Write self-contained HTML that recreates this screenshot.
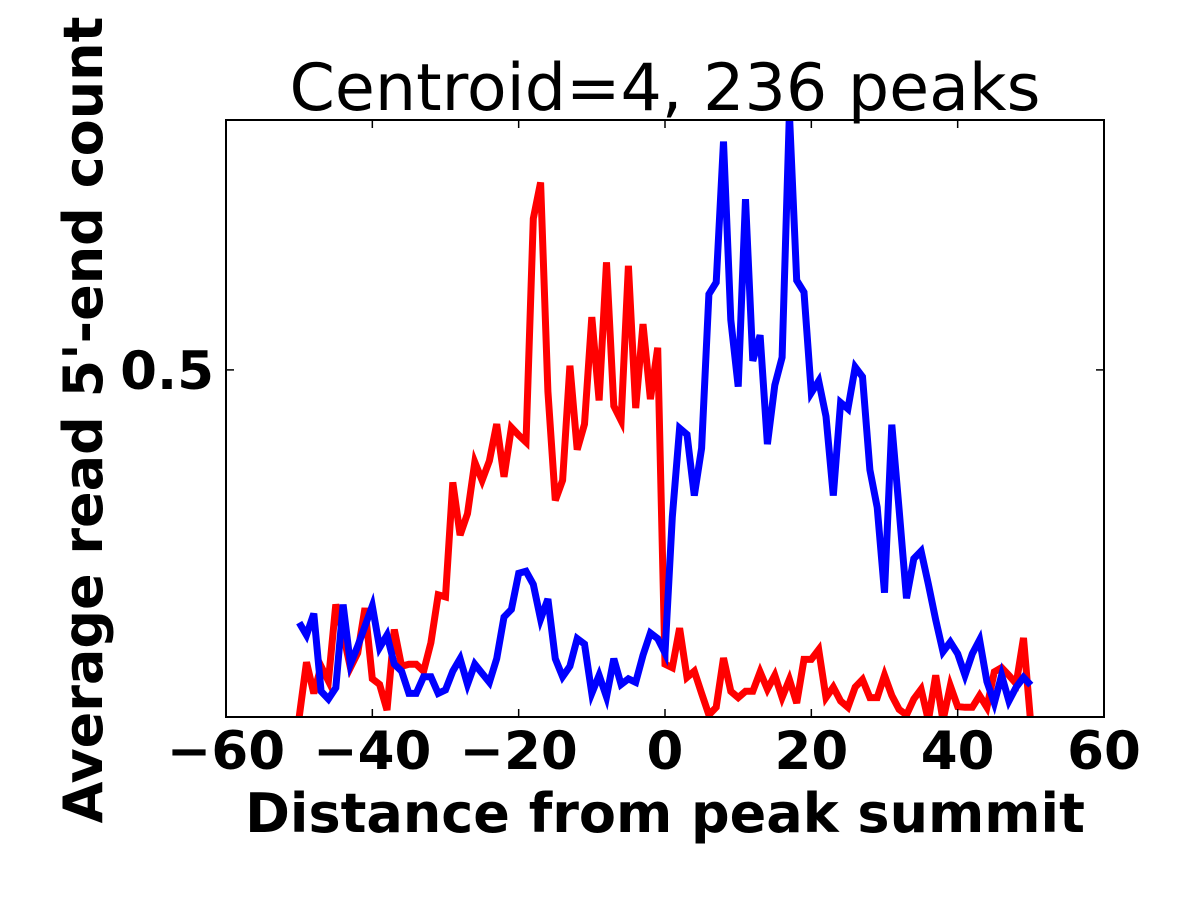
<!DOCTYPE html>
<html><head><meta charset="utf-8"><style>
html,body{margin:0;padding:0;background:#fff;}
svg{display:block;font-family:"DejaVu Sans","Liberation Sans",sans-serif;}
</style></head><body>
<svg id="chart" width="1200" height="900" viewBox="0 0 1200 900" xmlns="http://www.w3.org/2000/svg">
<text x="665" y="110" font-size="65" text-anchor="middle">Centroid=4, 236 peaks</text>
<defs><clipPath id="pc"><rect x="226" y="120" width="878" height="597"/></clipPath></defs>
<g id="lines" clip-path="url(#pc)"></g>
<rect x="226" y="120" width="878" height="597" fill="none" stroke="#000" stroke-width="2"/>
<g id="ticks"></g>
<text transform="translate(102,420) rotate(-90)" font-size="54" font-weight="bold" text-anchor="middle">Average read 5'-end count</text>
<text x="665" y="832" font-size="54" font-weight="bold" text-anchor="middle">Distance from peak summit</text>
</svg>
<script>
const xs = [];
for (let k = -50; k <= 50; k++) xs.push(k);
const redValues = [0,0.079,0.034,0.073,0.052,0.162,0.12,0.071,0.092,0.157,0.055,0.047,0.010,0.126,0.073,0.076,0.076,0.066,0.107,0.176,0.173,0.338,0.262,0.293,0.367,0.341,0.369,0.422,0.346,0.417,0.406,0.396,0.718,0.770,0.469,0.312,0.341,0.506,0.385,0.422,0.576,0.456,0.655,0.448,0.427,0.650,0.445,0.566,0.458,0.532,0.076,
0.071,0.128,0.057,0.066,0.034,0.003,0.014,0.085,0.037,0.028,0.037,0.037,0.065,0.040,0.060,0.028,0.054,0.020,0.083,0.083,0.097,0.028,0.043,0.023,0.014,0.043,0.054,0.028,0.028,0.060,0.031,0.011,0.003,0.026,0.040,-0.005,0.060,-0.005,0.045,0.015,0.014,0.014,0.031,0.014,0.065,0.071,0.060,0.048,0.114,-0.01];
const blueValues = [0.136,0.118,0.149,0.037,0.026,0.042,0.162,0.076,0.102,0.131,0.160,0.100,0.118,0.076,0.066,0.034,0.034,0.058,0.058,0.034,0.039,0.066,0.084,0.047,0.076,0.063,0.050,0.084,0.144,0.155,0.207,0.210,0.191,0.141,0.170,0.084,0.058,0.073,0.113,0.105,0.034,0.060,0.029,0.084,0.047,0.055,0.050,0.089,0.121,0.113,0.092,
0.288,0.416,0.407,0.319,0.387,0.609,0.626,0.829,0.572,0.476,0.746,0.513,0.550,0.393,0.478,0.518,0.87,0.629,0.612,0.467,0.484,0.433,0.319,0.453,0.444,0.504,0.490,0.356,0.302,0.179,0.421,0.299,0.171,0.228,0.239,0.191,0.140,0.094,0.108,0.091,0.060,0.091,0.111,0.051,0.020,0.060,0.023,0.043,0.057,0.046];
const xTicks = [-60,-40,-20,0,20,40,60];
const xTickLabels = ["\u221260","\u221240","\u221220","0","20","40","60"];
const yTicks = [0.5];
const yTickLabels = ["0.5"];

const X0=226,X1=1104,Y0=717,Y1=120,XMIN=-60,XMAX=60,YMIN=0,YMAX=0.86;
const sx=v=>X0+(v-XMIN)/(XMAX-XMIN)*(X1-X0);
const sy=v=>Y0-(v-YMIN)/(YMAX-YMIN)*(Y0-Y1);
const NS="http://www.w3.org/2000/svg";
const lines=document.getElementById('lines');
function addLine(vals,color,name){
  const p=document.createElementNS(NS,'polyline');
  p.setAttribute('points',vals.map((v,i)=>sx(xs[i]).toFixed(1)+','+sy(v).toFixed(1)).join(' '));
  p.setAttribute('fill','none');p.setAttribute('stroke',color);p.setAttribute('stroke-width','7');
  p.setAttribute('stroke-linejoin','miter');
  
  
  lines.appendChild(p);
}
addLine(redValues,'#ff0000','red-series-line');
addLine(blueValues,'#0000ff','blue-series-line');
const tg=document.getElementById('ticks');
xTicks.forEach((t,i)=>{
  const x=sx(t);
  [[Y0,Y0-8],[Y1,Y1+8]].forEach(([a,b])=>{
    const l=document.createElementNS(NS,'line');
    l.setAttribute('x1',x);l.setAttribute('x2',x);l.setAttribute('y1',a);l.setAttribute('y2',b);
    l.setAttribute('stroke','#000');l.setAttribute('stroke-width','1.5');
    
    
    tg.appendChild(l);
  });
  const tx=document.createElementNS(NS,'text');
  tx.setAttribute('x',x);tx.setAttribute('y',769);tx.setAttribute('font-size','53');
  tx.setAttribute('font-weight','bold');tx.setAttribute('text-anchor','middle');
  tx.textContent=xTickLabels[i];
  
  
  tg.appendChild(tx);
});
yTicks.forEach((t,i)=>{
  const y=sy(t);
  [[X0,X0+8],[X1,X1-8]].forEach(([a,b])=>{
    const l=document.createElementNS(NS,'line');
    l.setAttribute('x1',a);l.setAttribute('x2',b);l.setAttribute('y1',y);l.setAttribute('y2',y);
    l.setAttribute('stroke','#000');l.setAttribute('stroke-width','1.5');
    
    
    tg.appendChild(l);
  });
  const tx=document.createElementNS(NS,'text');
  tx.setAttribute('x',214);tx.setAttribute('y',y+19);tx.setAttribute('font-size','53');
  tx.setAttribute('font-weight','bold');tx.setAttribute('text-anchor','end');
  tx.textContent=yTickLabels[i];
  
  
  tg.appendChild(tx);
});
</script>
</body></html>
